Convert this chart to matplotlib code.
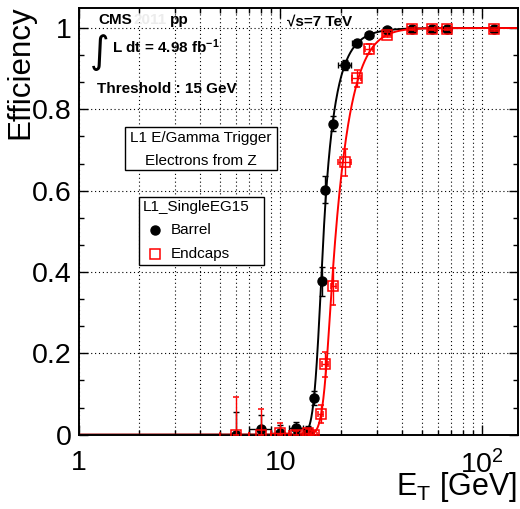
import matplotlib
matplotlib.use("Agg")
import matplotlib.pyplot as plt
import numpy as np
from matplotlib.lines import Line2D
from matplotlib.patches import Rectangle
from matplotlib.ticker import FixedFormatter, FixedLocator, LogLocator, MultipleLocator, NullFormatter

plt.rcParams["font.family"] = ["Liberation Sans", "DejaVu Sans"]
plt.rcParams["mathtext.fontset"] = "custom"
plt.rcParams["mathtext.rm"] = "Liberation Sans"
plt.rcParams["mathtext.it"] = "Liberation Sans:italic"
plt.rcParams["mathtext.bf"] = "Liberation Sans:bold"

# --- data ---
barrel_et = np.array([6, 8, 10, 12, 13.7, 14.6, 16.0, 16.7, 18.2, 20.8, 23.9, 27.5, 33.8, 44.6, 56, 66.6, 114])
barrel_eff = np.array([0.0, 0.013, 0.003, 0.017, 0.010, 0.09, 0.377, 0.602, 0.765, 0.909, 0.962, 0.984,
                       0.996, 0.997, 0.997, 0.998, 0.997])
barrel_err_lo = np.array([0, 0.013, 0.003, 0.012, 0.008, 0.016, 0.036, 0.033, 0.018, 0.012, 0.008, 0.006,
                          0.004, 0.003, 0.003, 0.003, 0.004])
barrel_err_hi = np.array([0.055, 0.035, 0.02, 0.015, 0.012, 0.018, 0.036, 0.033, 0.018, 0.012, 0.008, 0.006,
                          0.003, 0.002, 0.002, 0.001, 0.002])
barrel_xerr = np.array([1, 1, 1, 1, 0.5, 0.5, 0.5, 0.5, 0.5, 1.5, 1.2, 1.2, 1.5, 2, 2.4, 3.3, 5])

endcap_et = np.array([6, 8, 10, 12, 13.7, 14.7, 15.8, 16.6, 18.3, 20.8, 23.9, 27.5, 33.8, 44.6, 56, 66.6, 114])
endcap_eff = np.array([0.0, 0.0, 0.003, 0.0, 0.003, 0.0, 0.05, 0.173, 0.365, 0.670, 0.876, 0.948,
                       0.984, 0.997, 0.997, 0.997, 0.997])
endcap_err_lo = np.array([0, 0, 0.003, 0, 0.003, 0, 0.02, 0.03, 0.045, 0.033, 0.02, 0.012,
                          0.007, 0.003, 0.003, 0.003, 0.004])
endcap_err_hi = np.array([0.093, 0.063, 0.025, 0.01, 0.01, 0.01, 0.022, 0.03, 0.045, 0.033, 0.02, 0.012,
                          0.006, 0.002, 0.002, 0.002, 0.002])
endcap_xerr = np.array([1, 1, 1, 1, 0.5, 0.5, 0.5, 0.5, 0.5, 1.5, 1.2, 1.2, 1.5, 2, 2.4, 3.3, 5])

x_ticks = [1, 10, 100]
x_tick_labels = ["1", "10", r"$10^{2}$"]
y_ticks = [0, 0.2, 0.4, 0.6, 0.8, 1.0]
y_tick_labels = ["0", "0.2", "0.4", "0.6", "0.8", "1"]

W, H = 520, 509
SQ = np.sqrt(np.pi / 2)


def erf(z):
    s = np.sign(z)
    z = np.abs(z)
    t = 1 / (1 + 0.3275911 * z)
    y = 1 - (((((1.061405429 * t - 1.453152027) * t) + 1.421413741) * t - 0.284496736) * t
             + 0.254829592) * t * np.exp(-z * z)
    return s * y


def turn_on(x, m0, sigma, alpha, n):
    # integrated crystal-ball turn-on curve
    t = (x - m0) / sigma
    g = np.exp(-alpha ** 2 / 2)
    r = n / alpha
    core_tot = SQ * (1 + erf(alpha / np.sqrt(2)))
    tail_tot = g * r / (n - 1)
    core = SQ * (1 + erf(np.minimum(t, alpha) / np.sqrt(2)))
    tail = g * r / (n - 1) * (1 - (r / (r - alpha + np.maximum(t, alpha))) ** (n - 1))
    return (core + tail) / (core_tot + tail_tot)


def fit_turn_on(x, y, err):
    center = np.array([16.5, 1.2, 1.0, 4.0])
    half = np.array([3.0, 1.1, 0.95, 3.5])
    lower = np.array([5.0, 0.1, 0.05, 1.1])
    for _ in range(5):
        grids = [np.linspace(max(c - h, lo), c + h, 15) for c, h, lo in zip(center, half, lower)]
        m0, s, a, n = [g.ravel()[:, None] for g in np.meshgrid(*grids, indexing="ij")]
        chi2 = (((turn_on(x[None, :], m0, s, a, n) - y) / err) ** 2).sum(axis=1)
        k = np.argmin(chi2)
        center = np.array([m0[k, 0], s[k, 0], a[k, 0], n[k, 0]])
        half = half / 2.2
    return center


def px(x, y):
    return x / W, 1 - y / H


fig = plt.figure(figsize=(W / 100, H / 100), dpi=100)
ax = fig.add_axes([78.5 / W, 1 - 434.7 / H, (518 - 78.5) / W, (434.7 - 7.7) / H])

xs = np.logspace(0, np.log10(150), 1200)
for et, eff, lo, hi, color in [(barrel_et, barrel_eff, barrel_err_lo, barrel_err_hi, "black"),
                               (endcap_et, endcap_eff, endcap_err_lo, endcap_err_hi, "red")]:
    err = np.maximum((lo + hi) / 2, 0.005)
    params = fit_turn_on(et, eff, err)
    ax.plot(xs, turn_on(xs, *params), color=color, lw=1.4, zorder=2)

ax.errorbar(barrel_et, barrel_eff, yerr=[barrel_err_lo, barrel_err_hi], xerr=barrel_xerr,
            fmt="o", color="black", ms=6.5, elinewidth=1, capsize=2, capthick=1, zorder=3)
ax.errorbar(endcap_et, endcap_eff, yerr=[endcap_err_lo, endcap_err_hi], xerr=endcap_xerr,
            fmt="s", color="red", mfc="none", mec="red", mew=1.1, ms=7, elinewidth=1,
            capsize=2, capthick=1, zorder=4)

ax.set_xscale("log")
ax.set_xlim(1, 150)
ax.set_ylim(0, 1.05)
ax.xaxis.set_major_locator(FixedLocator(x_ticks))
ax.xaxis.set_major_formatter(FixedFormatter(x_tick_labels))
ax.xaxis.set_minor_locator(LogLocator(base=10, subs=np.arange(2, 10)))
ax.xaxis.set_minor_formatter(NullFormatter())
ax.yaxis.set_major_locator(FixedLocator(y_ticks))
ax.yaxis.set_major_formatter(FixedFormatter(y_tick_labels))
ax.yaxis.set_minor_locator(MultipleLocator(0.2 / 3))
ax.tick_params(which="both", direction="in", top=True, right=True, labelsize=20.5, width=1)
ax.tick_params(axis="x", which="major", length=7, pad=11)
ax.tick_params(axis="y", which="major", length=6.5, pad=5)
ax.tick_params(which="minor", length=3.4)
for sp in ax.spines.values():
    sp.set_linewidth(1.4)

grid_style = dict(color="black", lw=0.8, ls=(0, (1, 2.5)))
ax.grid(True, axis="x", which="both", **grid_style)
ax.grid(True, axis="y", which="major", **grid_style)

# axis titles
fig.text(*px(20, 5), "Efficiency", rotation=90, fontsize=22.5, ha="center", va="top")
fig.text(*px(516.7, 495), r"E$_{\mathrm{T}}$ [GeV]", fontsize=22, ha="right", va="baseline")

# header texts
bold = dict(fontsize=11, fontweight="bold", va="baseline")
fig.text(*px(98, 24.3), "CMS", **bold)
fig.text(*px(133, 24.3), "2011", color="#ececec", **bold)
fig.text(*px(170, 24.3), "pp", **bold)
fig.text(*px(287, 25), "\u221as=7 TeV", **bold)
fig.text(*px(90, 63), "\u222b", fontsize=27, family="DejaVu Sans", va="baseline")
fig.text(*px(111.7, 53.3), r"L dt = 4.98 fb$^{\mathbf{-1}}$", **bold)
fig.text(*px(96.7, 93), "Threshold : 15 GeV", **bold)

# info box
x0, y0, x1, y1 = 124.7, 127.3, 276.7, 170
fig.add_artist(Rectangle(px(x0, y1), (x1 - x0) / W, (y1 - y0) / H, transform=fig.transFigure,
                         facecolor="white", edgecolor="black", lw=1, zorder=5))
fig.text(*px(200.7, 138.3), "L1 E/Gamma Trigger", fontsize=11, ha="center", va="center", zorder=6)
fig.text(*px(200.7, 160.7), "Electrons from Z", fontsize=11, ha="center", va="center", zorder=6)

# legend box
x0, y0, x1, y1 = 139.3, 196.7, 264, 265.3
fig.add_artist(Rectangle(px(x0, y1), (x1 - x0) / W, (y1 - y0) / H, transform=fig.transFigure,
                         facecolor="white", edgecolor="black", lw=1, zorder=5))
fig.text(*px(142.7, 207.3), "L1_SingleEG15", fontsize=11, va="center", zorder=6)
fig.add_artist(Line2D([155 / W], [1 - 230 / H], marker="o", color="black", ms=6.5,
                      transform=fig.transFigure, zorder=6))
fig.add_artist(Line2D([155 / W], [1 - 254 / H], marker="s", color="red", mfc="none", mew=1.1, ms=7,
                      transform=fig.transFigure, zorder=6))
fig.text(*px(170.7, 230), "Barrel", fontsize=11, va="center", zorder=6)
fig.text(*px(170.7, 254), "Endcaps", fontsize=11, va="center", zorder=6)

fig.savefig("out.png", dpi=100)
